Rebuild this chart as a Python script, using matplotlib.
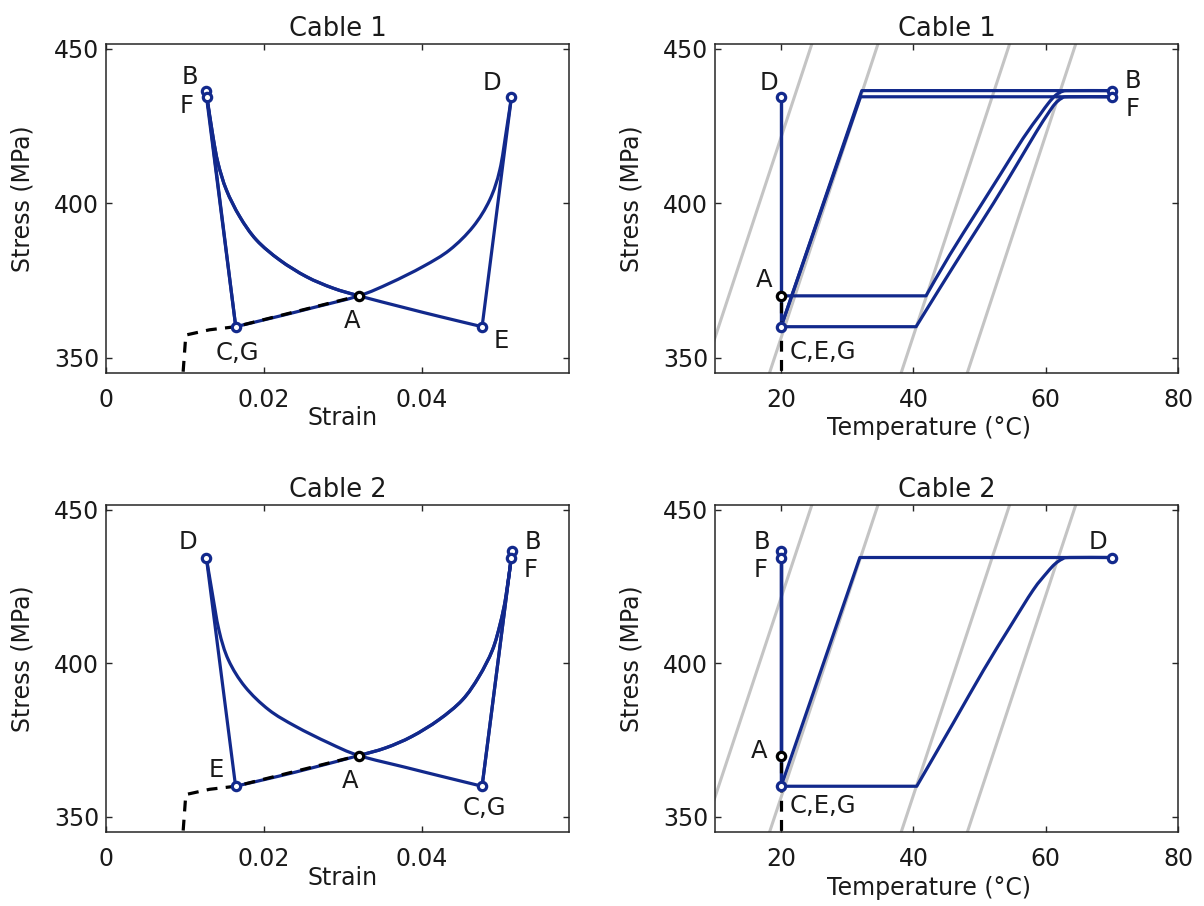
import matplotlib
matplotlib.use('Agg')
import matplotlib.pyplot as plt
from matplotlib.path import Path
from matplotlib.patches import PathPatch

plt.rcParams['font.family'] = ['DejaVu Sans']

# ---------------- data ----------------
# initial loading (dashed black)
load_strain = [0.0, 0.0101, 0.0131, 0.0164, 0.0320]
load_stress = [0.0, 357.3, 359.0, 360.0, 370.0]
load_temp = [20.0, 20.0]
load_temp_stress = [0.0, 370.0]

# Cable 1, stress-strain
c1_AB_strain = [0.0320, 0.02873, 0.02537, 0.02199, 0.01904, 0.01692, 0.01524, 0.01418, 0.01354, 0.01262]
c1_AB_stress = [370.0, 372.5, 376.2, 381.6, 388.1, 395.7, 404.3, 413.0, 421.6, 436.5]
c1_BC_strain = [0.01262, 0.01642]
c1_BC_stress = [436.5, 360.0]
c1_CD_strain = [0.01642, 0.0219, 0.0261, 0.0320, 0.03591, 0.04013, 0.04351, 0.04646, 0.04857, 0.04984, 0.05068, 0.05132]
c1_CD_stress = [360.0, 363.4, 366.1, 370.0, 374.1, 379.5, 384.9, 392.4, 401.1, 410.8, 423.7, 434.5]
c1_DE_strain = [0.05132, 0.0476]
c1_DE_stress = [434.5, 360.0]
c1_EF_strain = [0.0476, 0.04224, 0.03803, 0.0320, 0.02873, 0.02537, 0.02199, 0.01904, 0.01692, 0.01524, 0.01418, 0.01354, 0.01278]
c1_EF_stress = [360.0, 363.3, 366.0, 370.0, 372.5, 376.2, 381.6, 388.1, 395.7, 404.3, 413.0, 421.6, 434.5]
c1_FG_strain = [0.01278, 0.01642]
c1_FG_stress = [434.5, 360.0]

# Cable 2, stress-strain
c2_AB_strain = [0.0320, 0.0354, 0.0387, 0.0421, 0.0451, 0.0472, 0.0489, 0.0499, 0.0506, 0.0514]
c2_AB_stress = [370.0, 372.5, 376.2, 381.6, 388.1, 395.7, 404.3, 413.0, 421.6, 436.5]
c2_BC_strain = [0.0514, 0.0476]
c2_BC_stress = [436.5, 360.0]
c2_CD_strain = [0.0476, 0.0422, 0.0380, 0.0320, 0.0282, 0.0240, 0.0206, 0.0176, 0.0155, 0.0143, 0.0134, 0.0127]
c2_CD_stress = [360.0, 363.4, 366.1, 370.0, 374.1, 379.5, 384.9, 392.4, 401.1, 410.8, 423.7, 434.5]
c2_DE_strain = [0.0127, 0.0164]
c2_DE_stress = [434.5, 360.0]
c2_EF_strain = [0.0164, 0.0219, 0.0261, 0.0320, 0.0354, 0.0387, 0.0421, 0.0451, 0.0472, 0.0489, 0.0499, 0.0506, 0.0513]
c2_EF_stress = [360.0, 363.3, 366.0, 370.0, 372.5, 376.2, 381.6, 388.1, 395.7, 404.3, 413.0, 421.6, 434.5]
c2_FG_strain = [0.0513, 0.0476]
c2_FG_stress = [434.5, 360.0]

# Cable 1, stress-temperature
c1_AB_temp = [20.0, 41.9, 45.5, 49.6, 53.1, 56.6, 59.1, 60.4, 61.5, 62.6, 63.8, 70.0]
c1_AB_tstress = [370.0, 370.0, 383.3, 397.3, 409.2, 421.1, 428.6, 432.4, 435.0, 436.3, 436.5, 436.5]
c1_BC_temp = [70.0, 32.2, 20.0]
c1_BC_tstress = [436.5, 436.5, 360.0]
c1_CD_temp = [20.0, 20.0]
c1_CD_tstress = [360.0, 434.5]
c1_DE_temp = [20.0, 20.0]
c1_DE_tstress = [434.5, 360.0]
c1_EF_temp = [20.0, 40.4, 44.0, 48.1, 52.1, 55.6, 58.6, 60.3, 61.4, 62.4, 63.5, 70.0]
c1_EF_tstress = [360.0, 360.0, 372.5, 386.5, 400.0, 412.4, 423.2, 428.9, 432.2, 434.0, 434.5, 434.5]
c1_FG_temp = [70.0, 32.0, 20.0]
c1_FG_tstress = [434.5, 434.5, 360.0]

# Cable 2, stress-temperature
c2_AB_temp = [20.0, 20.0]
c2_AB_tstress = [370.0, 436.5]
c2_BC_temp = [20.0, 20.0]
c2_BC_tstress = [436.5, 360.0]
c2_CD_temp = [20.0, 40.5, 46.0, 50.6, 54.6, 58.1, 60.2, 61.4, 62.5, 63.6, 70.0]
c2_CD_tstress = [360.0, 360.0, 380.5, 397.8, 411.9, 423.9, 429.6, 432.4, 434.0, 434.5, 434.5]
c2_DE_temp = [70.0, 31.9, 20.0]
c2_DE_tstress = [434.5, 434.5, 360.0]
c2_EF_temp = [20.0, 20.0]
c2_EF_tstress = [360.0, 434.5]
c2_FG_temp = [20.0, 20.0]
c2_FG_tstress = [434.5, 360.0]

# transformation lines (gray): temperature at 400 MPa and stress-rate (MPa/degC)
gray_T400 = [16.7, 26.7, 46.6, 56.6]
gray_slope = 6.5
gray_stress_span = [330.0, 470.0]

# labelled states: name, x, y
c1_strain_pts = [('A', 0.0320, 370.0), ('B', 0.01262, 436.5), ('F', 0.01278, 434.5),
                 ('C,G', 0.01642, 360.0), ('D', 0.05132, 434.5), ('E', 0.0476, 360.0)]
c2_strain_pts = [('A', 0.0320, 370.0), ('B', 0.0514, 436.5), ('F', 0.0513, 434.5),
                 ('C,G', 0.0476, 360.0), ('D', 0.0127, 434.5), ('E', 0.0164, 360.0)]
c1_temp_pts = [('A', 20.0, 370.0), ('B', 70.0, 436.5), ('F', 70.0, 434.5),
               ('C,E,G', 20.0, 360.0), ('D', 20.0, 434.5)]
c2_temp_pts = [('A', 20.0, 370.0), ('B', 20.0, 436.5), ('F', 20.0, 434.5),
               ('C,E,G', 20.0, 360.0), ('D', 70.0, 434.5)]

strain_ticks = [0, 0.02, 0.04]
strain_ticklabels = ['0', '0.02', '0.04']
temp_ticks = [20, 40, 60, 80]
stress_ticks = [350, 400, 450]

# ---------------- style ----------------
BLUE = '#12298c'
GRAY = '#c4c4c4'
SPINE = '#262626'
TXT = '#1a1a1a'
LW = 2.3
FS = 17

# label offsets in points (dx, dy, ha)
off_c1_strain = {'A': (-5, -18, 'center'), 'B': (-11, 10, 'center'), 'F': (-15, -7, 'center'),
                 'C,G': (1, -19, 'center'), 'D': (-14, 10, 'center'), 'E': (14, -10, 'center')}
off_c2_strain = {'A': (-6, -18, 'center'), 'B': (15, 7, 'center'), 'F': (14, -9, 'center'),
                 'C,G': (2, -16, 'center'), 'D': (-13.5, 11, 'center'), 'E': (-14, 11.5, 'center')}
off_c1_temp = {'A': (-12, 11.5, 'center'), 'B': (15, 7, 'center'), 'F': (15, -9, 'center'),
               'C,E,G': (6, -18.5, 'left'), 'D': (-9, 10, 'center')}
off_c2_temp = {'A': (-16, 3.5, 'center'), 'B': (-14, 6.5, 'center'), 'F': (-14.5, -9, 'center'),
               'C,E,G': (6, -14, 'left'), 'D': (-10, 11, 'center')}

fig = plt.figure(figsize=(12.04, 9.06), dpi=100)
W, H = 1204.0, 906.0
ax_tl = fig.add_axes([106 / W, 1 - 373 / H, 463 / W, 329 / H])
ax_tr = fig.add_axes([715 / W, 1 - 373 / H, 463 / W, 329 / H])
ax_bl = fig.add_axes([106 / W, 1 - 832.3 / H, 463 / W, 327.3 / H])
ax_br = fig.add_axes([715 / W, 1 - 832.3 / H, 463 / W, 327.3 / H])


def style(ax, title, xlabel, xlab_xy):
    ax.set_ylim(345.0, 451.6)
    ax.set_yticks(stress_ticks)
    ax.tick_params(direction='in', length=4, width=1.0, top=True, right=True,
                   labelsize=FS, colors=SPINE, labelcolor=TXT)
    ax.tick_params(axis='x', pad=10.5)
    ax.tick_params(axis='y', pad=4.8)
    for s in ax.spines.values():
        s.set_color(SPINE)
        s.set_linewidth(1.1)
    ax.set_title(title, fontsize=18.5, pad=5.5, color=TXT)
    ax.set_xlabel(xlabel, fontsize=FS, color=TXT)
    ax.xaxis.set_label_coords(*xlab_xy)
    ax.set_ylabel('Stress (MPa)', fontsize=FS, color=TXT)
    ax.yaxis.set_label_coords(-0.1555, 0.53)


def smooth_line(ax, xs, ys, k0=0):
    """Straight segments up to index k0, then a smooth Catmull-Rom (cubic Bezier)
    curve through the remaining read points."""
    pts = list(zip(xs, ys))
    verts = [pts[0]]
    codes = [Path.MOVETO]
    for p in pts[1:k0 + 1]:
        verts.append(p)
        codes.append(Path.LINETO)
    q = pts[k0:]
    n = len(q)
    for j in range(n - 1):
        pm = q[j - 1] if j > 0 else q[j]
        p0 = q[j]
        p1 = q[j + 1]
        p2 = q[j + 2] if j + 2 < n else q[j + 1]
        c1 = (p0[0] + (p1[0] - pm[0]) / 6.0, p0[1] + (p1[1] - pm[1]) / 6.0)
        c2 = (p1[0] - (p2[0] - p0[0]) / 6.0, p1[1] - (p2[1] - p0[1]) / 6.0)
        verts += [c1, c2, p1]
        codes += [Path.CURVE4] * 3
    patch = PathPatch(Path(verts, codes), fill=False, edgecolor=BLUE,
                      lw=LW, zorder=3, capstyle='round', joinstyle='round')
    ax.add_patch(patch)


def straight(ax, xs, ys):
    ax.plot(xs, ys, color=BLUE, lw=LW, zorder=3, solid_joinstyle='round',
            solid_capstyle='round')


def draw_points(ax, pts, offs):
    for name, x, y in pts:
        col = 'black' if name == 'A' else BLUE
        ax.plot([x], [y], marker='o', ms=6, mew=2.3, mec=col, mfc='white',
                linestyle='none', zorder=6)
        dx, dy, ha = offs[name]
        ax.annotate(name, xy=(x, y), xytext=(dx, dy), textcoords='offset points',
                    ha=ha, va='center', fontsize=17.5, color=TXT, zorder=7)


def draw_gray(ax):
    for t in gray_T400:
        ts = [t + (s - 400.0) / gray_slope for s in gray_stress_span]
        ax.plot(ts, gray_stress_span, color=GRAY, lw=2.2, zorder=1)


def dashed(ax, xs, ys):
    ax.plot(xs, ys, color='black', lw=2.3, ls=(0, (3.4, 2.6)), zorder=4)


# Cable 1 strain
ax = ax_tl
ax.set_xlim(0, 0.0586)
smooth_line(ax, c1_AB_strain, c1_AB_stress)
straight(ax, c1_BC_strain, c1_BC_stress)
smooth_line(ax, c1_CD_strain, c1_CD_stress)
straight(ax, c1_DE_strain, c1_DE_stress)
smooth_line(ax, c1_EF_strain, c1_EF_stress)
straight(ax, c1_FG_strain, c1_FG_stress)
dashed(ax, load_strain, load_stress)
draw_points(ax, c1_strain_pts, off_c1_strain)
ax.set_xticks(strain_ticks)
ax.set_xticklabels(strain_ticklabels)
style(ax, 'Cable 1', 'Strain', (0.512, -0.100))

# Cable 1 temperature
ax = ax_tr
ax.set_xlim(10, 80)
draw_gray(ax)
smooth_line(ax, c1_AB_temp, c1_AB_tstress, k0=1)
straight(ax, c1_BC_temp, c1_BC_tstress)
straight(ax, c1_CD_temp, c1_CD_tstress)
straight(ax, c1_DE_temp, c1_DE_tstress)
smooth_line(ax, c1_EF_temp, c1_EF_tstress, k0=1)
straight(ax, c1_FG_temp, c1_FG_tstress)
dashed(ax, load_temp, load_temp_stress)
draw_points(ax, c1_temp_pts, off_c1_temp)
ax.set_xticks(temp_ticks)
style(ax, 'Cable 1', 'Temperature (°C)', (0.462, -0.130))

# Cable 2 strain
ax = ax_bl
ax.set_xlim(0, 0.0586)
smooth_line(ax, c2_AB_strain, c2_AB_stress)
straight(ax, c2_BC_strain, c2_BC_stress)
smooth_line(ax, c2_CD_strain, c2_CD_stress)
straight(ax, c2_DE_strain, c2_DE_stress)
smooth_line(ax, c2_EF_strain, c2_EF_stress)
straight(ax, c2_FG_strain, c2_FG_stress)
dashed(ax, load_strain, load_stress)
draw_points(ax, c2_strain_pts, off_c2_strain)
ax.set_xticks(strain_ticks)
ax.set_xticklabels(strain_ticklabels)
style(ax, 'Cable 2', 'Strain', (0.512, -0.102))

# Cable 2 temperature
ax = ax_br
ax.set_xlim(10, 80)
draw_gray(ax)
straight(ax, c2_AB_temp, c2_AB_tstress)
straight(ax, c2_BC_temp, c2_BC_tstress)
smooth_line(ax, c2_CD_temp, c2_CD_tstress, k0=1)
straight(ax, c2_DE_temp, c2_DE_tstress)
straight(ax, c2_EF_temp, c2_EF_tstress)
straight(ax, c2_FG_temp, c2_FG_tstress)
dashed(ax, load_temp, load_temp_stress)
draw_points(ax, c2_temp_pts, off_c2_temp)
ax.set_xticks(temp_ticks)
style(ax, 'Cable 2', 'Temperature (°C)', (0.462, -0.1326))

fig.savefig('out.png', dpi=100)
